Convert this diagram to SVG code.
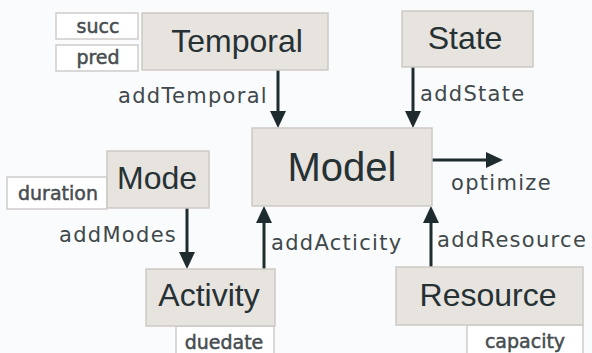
<svg xmlns="http://www.w3.org/2000/svg" width="592" height="353" viewBox="0 0 592 353">
  <defs>
    <marker id="head" markerUnits="userSpaceOnUse" markerWidth="17" markerHeight="17" refX="0" refY="8" orient="auto">
      <path d="M0,0 L17,8 L0,16 z" fill="#1f2c2f"/>
    </marker>
    <style>
      .box { fill: #e7e3df; stroke: #cdc9c4; stroke-width: 1.5; }
      .tag { fill: #ffffff; stroke: #cfcccb; stroke-width: 1.5; }
      .title { font-family: "Liberation Sans", Arial, sans-serif; font-size: 32px; fill: #263134; text-anchor: middle; }
      .big { font-size: 40px; }
      .attr { font-family: "DejaVu Sans", Verdana, sans-serif; font-size: 19px; fill: #464d50; stroke: #464d50; stroke-width: 0.5px; text-anchor: middle; }
      .call { font-family: "DejaVu Sans", Verdana, sans-serif; font-size: 21px; fill: #40484b; letter-spacing: 1.3px; }
      .link { stroke: #1f2c2f; stroke-width: 3; fill: none; marker-end: url(#head); }
    </style>
  </defs>

  <rect width="592" height="353" fill="#fafbfc"/>

  <!-- connectors -->
  <g id="connectors">
    <path class="link" d="M278,70 V111"/>
    <path class="link" d="M413,67 V111"/>
    <path class="link" d="M187,208 V252"/>
    <path class="link" d="M264,269 V223"/>
    <path class="link" d="M431,267 V223"/>
    <path class="link" d="M432,160 H486"/>
    <text class="call" x="118" y="103">addTemporal</text>
    <text class="call" x="420" y="101">addState</text>
    <text class="call" x="59" y="242">addModes</text>
    <text class="call" x="271" y="250">addActicity</text>
    <text class="call" x="437" y="247">addResource</text>
    <text class="call" x="451" y="190">optimize</text>
  </g>

  <!-- nodes -->
  <g id="temporal">
    <rect class="tag" x="56" y="13" width="82" height="26"/>
    <text class="attr" x="98" y="33">succ</text>
    <rect class="tag" x="56" y="45" width="82" height="26"/>
    <text class="attr" x="98" y="64">pred</text>
    <rect class="box" x="142" y="13" width="186" height="57"/>
    <text class="title" x="237" y="52">Temporal</text>
  </g>

  <g id="state">
    <rect class="box" x="402" y="11" width="131" height="56"/>
    <text class="title" x="465" y="49">State</text>
  </g>

  <g id="model">
    <rect class="box" x="252" y="128" width="180" height="78"/>
    <text class="title big" x="342" y="181">Model</text>
  </g>

  <g id="mode">
    <rect class="tag" x="7" y="177" width="100" height="32"/>
    <text class="attr" x="58" y="200">duration</text>
    <rect class="box" x="107" y="151" width="102" height="57"/>
    <text class="title" x="157" y="189">Mode</text>
  </g>

  <g id="activity">
    <rect class="tag" x="176" y="326" width="98" height="40"/>
    <text class="attr" x="224" y="349">duedate</text>
    <rect class="box" x="146" y="269" width="129" height="57"/>
    <text class="title" x="209" y="306">Activity</text>
  </g>

  <g id="resource">
    <rect class="tag" x="467" y="325" width="116" height="40"/>
    <text class="attr" x="525" y="348">capacity</text>
    <rect class="box" x="396" y="267" width="187" height="58"/>
    <text class="title" x="488" y="306">Resource</text>
  </g>
</svg>
